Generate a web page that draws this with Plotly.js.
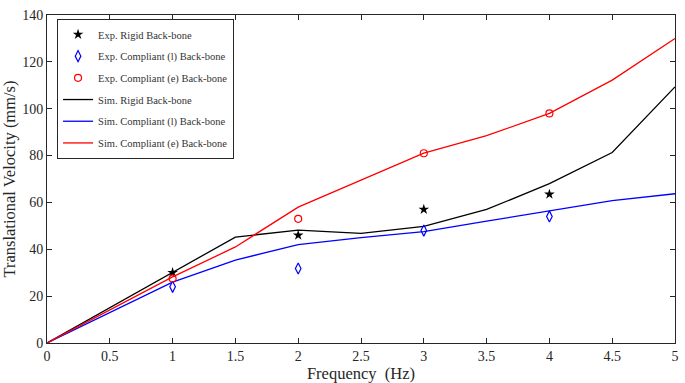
<!DOCTYPE html>
<html>
<head>
<meta charset="utf-8">
<script src="https://cdn.plot.ly/plotly-3.0.1.min.js"></script>
<style>html,body{margin:0;padding:0;background:#fff;}#chart{width:685px;height:383px;}</style>
</head>
<body>
<div id="chart"></div>
<script>
// Frequencies
const simFreq = [0, 0.5, 1, 1.5, 2, 2.5, 3, 3.5, 4, 4.5, 5];
const expFreq = [1, 2, 3, 4];

// Experimental data (mm/s)
const expRigid = [30, 46, 57, 63.5];
const expCompliantL = [24, 31.8, 48, 54];
const expCompliantE = [27.5, 53, 81, 98];

// Simulated data (mm/s)
const simRigid = [0, 15, 30, 45.2, 48.2, 46.8, 49.8, 57, 68, 81.3, 109.3];
const simCompliantL = [0, 13, 26, 35.4, 42, 45, 47.5, 52, 56.5, 60.8, 63.7];
const simCompliantE = [0, 14, 28.2, 41, 58, 69.5, 81, 88.5, 98, 112.2, 130];

const xTicks = [0, 0.5, 1, 1.5, 2, 2.5, 3, 3.5, 4, 4.5, 5];
const xTickLabels = ['0', '0.5', '1', '1.5', '2', '2.5', '3', '3.5', '4', '4.5', '5'];
const yTicks = [0, 20, 40, 60, 80, 100, 120, 140];

const names = ['Exp. Rigid Back-bone', 'Exp. Compliant (l) Back-bone', 'Exp. Compliant (e) Back-bone',
               'Sim. Rigid Back-bone', 'Sim. Compliant (l) Back-bone', 'Sim. Compliant (e) Back-bone'];

const black = '#000000', blue = '#0000ff', red = '#ff0000';

const data = [
  {x: simFreq, y: simRigid, mode: 'lines', name: names[3], line: {color: black, width: 1.3}, legendrank: 4, legendgroup: 'g4'},
  {x: simFreq, y: simCompliantL, mode: 'lines', name: names[4], line: {color: blue, width: 1.3}, legendrank: 5, legendgroup: 'g5'},
  {x: simFreq, y: simCompliantE, mode: 'lines', name: names[5], line: {color: red, width: 1.3}, legendrank: 6, legendgroup: 'g6'},
  {x: expFreq, y: expRigid, mode: 'markers', name: names[0], marker: {symbol: 'star', color: black, size: 8}, legendrank: 1, legendgroup: 'g1'},
  {x: expFreq, y: expCompliantL, mode: 'markers', name: names[1], marker: {symbol: 'diamond-tall-open', color: blue, size: 8, line: {width: 1.2}}, legendrank: 2, legendgroup: 'g2'},
  {x: expFreq, y: expCompliantE, mode: 'markers', name: names[2], marker: {symbol: 'circle-open', color: red, size: 7, line: {width: 1.2}}, legendrank: 3, legendgroup: 'g3'}
];

const axisColor = '#262626';
const layout = {
  width: 685, height: 383,
  margin: {l: 47, r: 10, t: 15, b: 40},
  paper_bgcolor: '#ffffff', plot_bgcolor: '#ffffff',
  font: {family: '"Liberation Serif", "Times New Roman", serif', color: axisColor},
  showlegend: true,
  legend: {
    x: 0.016, y: 0.988, xanchor: 'left', yanchor: 'top',
    bgcolor: '#ffffff', bordercolor: axisColor, borderwidth: 1,
    font: {size: 10.5, color: '#333333'},
    tracegroupgap: 2.7, itemwidth: 30
  },
  xaxis: {
    range: [0, 5], tickvals: xTicks, ticktext: xTickLabels,
    ticks: 'inside', ticklen: 5, tickcolor: axisColor, tickwidth: 1,
    showline: true, linecolor: axisColor, linewidth: 1, mirror: 'ticks',
    showgrid: false, zeroline: false,
    tickfont: {size: 14, color: axisColor},
    title: {text: 'Frequency  (Hz)', font: {size: 16.5, color: axisColor}, standoff: 5},
    automargin: false
  },
  yaxis: {
    range: [0, 140], tickvals: yTicks,
    ticks: 'inside', ticklen: 5, tickcolor: axisColor, tickwidth: 1,
    showline: true, linecolor: axisColor, linewidth: 1, mirror: 'ticks',
    showgrid: false, zeroline: false,
    tickfont: {size: 14, color: axisColor},
    title: {text: 'Translational Velocity (mm/s)', font: {size: 16.5, color: axisColor}, standoff: 4},
    automargin: false
  }
};

Plotly.newPlot('chart', data, layout, {displayModeBar: false, staticPlot: true});
</script>
</body>
</html>
